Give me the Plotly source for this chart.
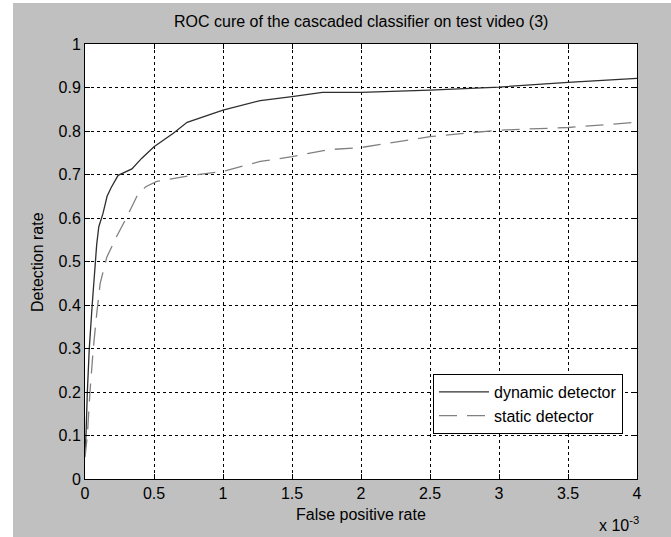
import plotly.graph_objects as go

# False positive rate in units of 1e-3 (axis multiplier shown as "x 10^-3")
dyn_fpr = [0.000, 0.007, 0.017, 0.031, 0.052, 0.070, 0.085, 0.100, 0.130, 0.160,
           0.190, 0.240, 0.290, 0.340, 0.410, 0.500, 0.640, 0.740, 1.000, 1.270,
           1.500, 1.720, 2.000, 2.500, 3.000, 3.500, 4.000]
dyn_det = [0.06, 0.10, 0.20, 0.30, 0.40, 0.48, 0.54, 0.58, 0.61, 0.65,
           0.67, 0.698, 0.705, 0.713, 0.737, 0.764, 0.795, 0.820, 0.848, 0.870,
           0.879, 0.889, 0.889, 0.894, 0.901, 0.912, 0.921]

sta_fpr = [0.000, 0.017, 0.036, 0.060, 0.085, 0.110, 0.158, 0.230, 0.303, 0.376,
           0.440, 0.520, 0.790, 1.000, 1.270, 1.500, 1.760, 2.000, 2.500, 3.000,
           3.500, 4.000]
sta_det = [0.05, 0.10, 0.20, 0.30, 0.38, 0.45, 0.51, 0.558, 0.602, 0.650,
           0.672, 0.684, 0.699, 0.707, 0.730, 0.741, 0.757, 0.762, 0.787, 0.802,
           0.808, 0.820]

x_tickvals = [0, 0.5, 1, 1.5, 2, 2.5, 3, 3.5, 4]
x_ticktext = ["0", "0.5", "1", "1.5", "2", "2.5", "3", "3.5", "4"]
y_tickvals = [0, 0.1, 0.2, 0.3, 0.4, 0.5, 0.6, 0.7, 0.8, 0.9, 1.0]
y_ticktext = ["0", "0.1", "0.2", "0.3", "0.4", "0.5", "0.6", "0.7", "0.8", "0.9", "1"]

title_text = "ROC cure of the cascaded classifier on test video (3)"
x_title = "False positive rate"
y_title = "Detection rate"

FONT = "Liberation Sans, Arial, Helvetica, sans-serif"
W, H = 671, 537
L, R, T, B = 85, 34, 44, 58
PW, PH = W - L - R, H - T - B

def px_x(px):
    return (px - L) / PW

def px_y(py):
    return (H - B - py) / PH

fig = go.Figure()
fig.add_trace(go.Scatter(x=dyn_fpr, y=dyn_det, mode="lines", name="dynamic detector",
                         line=dict(color="#2e2e2e", width=1.3)))
fig.add_trace(go.Scatter(x=sta_fpr, y=sta_det, mode="lines", name="static detector",
                         line=dict(color="#808080", width=1.3, dash="18px,10px")))

axis_common = dict(showline=True, linecolor="black", linewidth=1, mirror="ticks",
                   ticks="inside", ticklen=5, tickcolor="black", showgrid=True,
                   gridcolor="black", gridwidth=1, griddash="3px,3px", zeroline=False,
                   tickfont=dict(family=FONT, size=16, color="black"))

fig.update_xaxes(range=[0, 4], tickvals=x_tickvals, ticktext=x_ticktext, **axis_common)
fig.update_yaxes(range=[0, 1], tickvals=y_tickvals, ticktext=y_ticktext, **axis_common)

fig.update_layout(
    width=W, height=H,
    margin=dict(l=L, r=R, t=T, b=B, pad=0),
    paper_bgcolor="#c0c0c0",
    plot_bgcolor="white",
    font=dict(family=FONT, size=16, color="black"),
    showlegend=True,
    legend=dict(x=px_x(623), xanchor="right", y=px_y(434), yanchor="bottom",
                bgcolor="white", bordercolor="black", borderwidth=1,
                font=dict(family=FONT, size=16, color="black"),
                itemwidth=50, tracegroupgap=0),
    shapes=[
        dict(type="rect", xref="paper", yref="paper", x0=px_x(-5), x1=px_x(13),
             y0=px_y(H + 5), y1=px_y(-5), fillcolor="white", line=dict(width=0), layer="below"),
        dict(type="rect", xref="paper", yref="paper", x0=px_x(-5), x1=px_x(W + 5),
             y0=px_y(3), y1=px_y(-5), fillcolor="white", line=dict(width=0), layer="below"),
    ],
    annotations=[
        dict(text=title_text, xref="paper", yref="paper", x=0.5, y=px_y(22),
             xanchor="center", yanchor="middle", showarrow=False,
             font=dict(family=FONT, size=16, color="black")),
        dict(text=x_title, xref="paper", yref="paper", x=0.5, y=px_y(514),
             xanchor="center", yanchor="middle", showarrow=False,
             font=dict(family=FONT, size=16, color="black")),
        dict(text=y_title, xref="paper", yref="paper", x=px_x(37), y=px_y(262),
             xanchor="center", yanchor="middle", showarrow=False, textangle=-90,
             font=dict(family=FONT, size=16, color="black")),
        dict(text="x 10<sup>-3</sup>", xref="paper", yref="paper", x=px_x(641), y=px_y(524),
             xanchor="right", yanchor="middle", showarrow=False,
             font=dict(family=FONT, size=16, color="black")),
    ],
)

fig.write_html("out.html", config={"displayModeBar": False},
               post_script="document.body.style.margin='0';document.body.style.padding='0';")
